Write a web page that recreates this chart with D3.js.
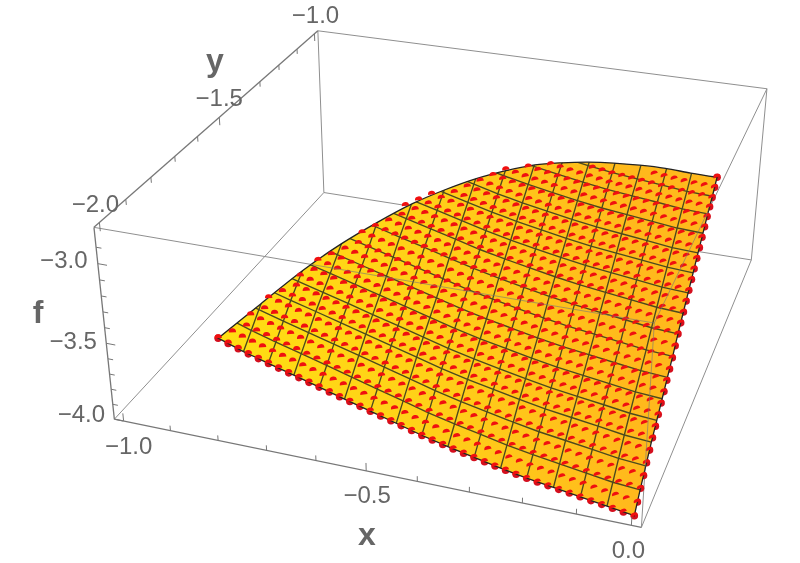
<!DOCTYPE html><html><head><meta charset="utf-8"><style>html,body{margin:0;background:#fff}svg{display:block;filter:blur(.35px)}text{font-family:"Liberation Sans",Arial,sans-serif;fill:#666;text-anchor:middle;dominant-baseline:central}</style></head><body><svg id="s" width="800" height="563"></svg>
<script src="https://cdnjs.cloudflare.com/ajax/libs/d3/7.8.5/d3.min.js"></script>
<script>
// ---- data ----
const xMesh=[-0.795,-0.745,-0.696,-0.646,-0.596,-0.547,-0.497,-0.447,-0.398,-0.348,-0.298,-0.248,-0.199,-0.149,-0.099,-0.05,0];
const yMesh=[-2,-1.9634,-1.9269,-1.8903,-1.8538,-1.8172,-1.7806,-1.7441,-1.7075,-1.6709,-1.6344,-1.5978,-1.5613,-1.5247,-1.4881,-1.4516,-1.415];
const yEdge=[-2,-1.919,-1.828,-1.762,-1.698,-1.636,-1.592,-1.547,-1.511,-1.481,-1.465,-1.452,-1.443,-1.436,-1.43,-1.424,-1.415];
const fEdge=[-3.37,-3.26,-3.16,-3.07,-3.0,-2.945,-2.895,-2.86,-2.835,-2.815,-2.8,-2.79,-2.785,-2.785,-2.79,-2.805,-2.82];
const fTable=[
[-3.37,-3.299,-3.228,-3.157,-3.096],
[-3.425,-3.353,-3.282,-3.21,-3.149,-3.087,-3.025],
[-3.47,-3.398,-3.326,-3.254,-3.192,-3.13,-3.067,-3.005,-2.933],
[-3.515,-3.442,-3.37,-3.297,-3.234,-3.172,-3.109,-3.046,-2.973,-2.911],
[-3.56,-3.487,-3.414,-3.34,-3.277,-3.214,-3.151,-3.087,-3.014,-2.951,-2.888,-2.824],
[-3.605,-3.531,-3.457,-3.384,-3.32,-3.256,-3.192,-3.128,-3.055,-2.991,-2.927,-2.863,-2.799],
[-3.65,-3.576,-3.501,-3.427,-3.362,-3.298,-3.234,-3.169,-3.095,-3.03,-2.966,-2.902,-2.837,-2.773],
[-3.695,-3.62,-3.545,-3.47,-3.405,-3.341,-3.276,-3.211,-3.136,-3.071,-3.006,-2.941,-2.876,-2.811,-2.746],
[-3.74,-3.665,-3.589,-3.514,-3.448,-3.383,-3.317,-3.252,-3.176,-3.111,-3.045,-2.98,-2.914,-2.849,-2.783,-2.728],
[-3.78,-3.704,-3.628,-3.552,-3.486,-3.42,-3.353,-3.287,-3.211,-3.145,-3.079,-3.013,-2.947,-2.881,-2.815,-2.759,-2.692],
[-3.815,-3.738,-3.662,-3.585,-3.519,-3.452,-3.385,-3.319,-3.242,-3.176,-3.109,-3.042,-2.976,-2.909,-2.843,-2.786,-2.719],
[-3.85,-3.773,-3.696,-3.618,-3.551,-3.484,-3.417,-3.35,-3.272,-3.205,-3.138,-3.071,-3.004,-2.936,-2.869,-2.812,-2.745],
[-3.88,-3.802,-3.725,-3.647,-3.579,-3.511,-3.444,-3.376,-3.298,-3.23,-3.163,-3.095,-3.027,-2.959,-2.892,-2.834,-2.766],
[-3.905,-3.827,-3.748,-3.67,-3.602,-3.534,-3.465,-3.397,-3.319,-3.25,-3.182,-3.114,-3.045,-2.977,-2.909,-2.851,-2.782],
[-3.93,-3.851,-3.772,-3.693,-3.624,-3.556,-3.487,-3.418,-3.339,-3.27,-3.201,-3.132,-3.063,-2.994,-2.925,-2.867,-2.798],
[-3.955,-3.876,-3.796,-3.717,-3.647,-3.578,-3.508,-3.439,-3.36,-3.29,-3.221,-3.151,-3.082,-3.012,-2.943,-2.883,-2.814],
[-3.98,-3.89,-3.81,-3.73,-3.66,-3.59,-3.52,-3.45,-3.37,-3.3,-3.23,-3.16,-3.09,-3.02,-2.95,-2.89,-2.82]];
const xTicks=[-1,-0.9,-0.8,-0.7,-0.6,-0.5,-0.4,-0.3,-0.2,-0.1,0];
const yTicks=[-2,-1.9,-1.8,-1.7,-1.6,-1.5,-1.4,-1.3,-1.2,-1.1,-1];
const fTicks=[-4,-3.9,-3.8,-3.7,-3.6,-3.5,-3.4,-3.3,-3.2,-3.1,-3,-2.9];
const xLabels=[-1,-0.5,0], yLabels=[-2,-1.5,-1], fLabels=[-4,-3.5,-3];
const xDots=d3.range(0,41).map(k=>-0.795+k*0.019875), yDots=d3.range(0,31).map(k=>-2+k*0.0195);
// ---- scales and camera ----
const xS=d3.scaleLinear([-1.02,0.018],[0,1]),yS=d3.scaleLinear([-2.02,-0.98],[0,1]),fS=d3.scaleLinear([-4.0,-2.78],[0,1]);
const boxPx=[[0,0,1,94,229],[0,0,0,114,418],[0,1,1,318,30],[0,1,0,324,193],[1,1,1,767,89],[1,1,0,751,260],[1,0,0,642,528],[1,0,1,654,322]];
function solve(A,b){const n=b.length,M=A.map((r,i)=>[...r,b[i]]);for(let c=0;c<n;c++){let p=c;for(let r=c;r<n;r++)if(Math.abs(M[r][c])>Math.abs(M[p][c]))p=r;[M[c],M[p]]=[M[p],M[c]];for(let r=0;r<n;r++)if(r!=c){const k=M[r][c]/M[c][c];for(let q=c;q<=n;q++)M[r][q]-=k*M[c][q];}}return M.map((r,i)=>r[n]/r[i]);}
const rows=[],rhs=[];for(const [u,v,w,x,y] of boxPx){rows.push([u,v,w,1,0,0,0,0,-x*u,-x*v,-x*w]);rhs.push(x);rows.push([0,0,0,0,u,v,w,1,-y*u,-y*v,-y*w]);rhs.push(y);}
const cam=solve(d3.range(11).map(i=>d3.range(11).map(j=>d3.sum(rows,r=>r[i]*r[j]))),d3.range(11).map(i=>d3.sum(rows,(r,k)=>r[i]*rhs[k])));cam.push(1);
const P3=(x,y,f)=>{const u=xS(x),v=yS(y),w=fS(f),d=cam[8]*u+cam[9]*v+cam[10]*w+cam[11];return [(cam[0]*u+cam[1]*v+cam[2]*w+cam[3])/d,(cam[4]*u+cam[5]*v+cam[6]*w+cam[7])/d];};
const iS=d3.scaleLinear(xMesh,d3.range(xMesh.length)),jS=d3.scaleLinear(yMesh,d3.range(yMesh.length));
function fAt(x,y){const a=iS(x),b=jS(y),i=Math.min(Math.floor(a),15),j=Math.min(Math.floor(b),15),s=a-i,t=b-j;
 const c=(ii,jj)=>fTable[ii][jj]; const g=(ii)=>t<1e-9?c(ii,j):c(ii,j)*(1-t)+c(ii,j+1)*t; return s<1e-9?g(i):g(i)*(1-s)+g(i+1)*s;}
const edgeAt=d3.scaleLinear(xMesh,yEdge);
const X0=-1.02,X1=0.018,Y0=-2.02,Y1=-0.98,F0=-4,F1=-2.78;
const svg=d3.select('#s');const line=d3.line();
const seg=(g,a,b,col,w,op)=>g.append('path').attr('d',line([P3(...a),P3(...b)])).attr('fill','none').attr('stroke',col).attr('stroke-width',w).attr('opacity',op===undefined?1:op);
// ---- gradient + clip ----
const defs=svg.append('defs');
const grad=defs.append('linearGradient').attr('id','sg').attr('gradientUnits','userSpaceOnUse');
{const a=P3(xMesh[0],-2,fTable[0][0]),b=P3(0,-2,fTable[16][0]);grad.attr('x1',a[0]).attr('y1',a[1]).attr('x2',b[0]).attr('y2',a[1]);}
grad.selectAll('stop').data([[0,'#ffdf12'],[0.5,'#ffd018'],[1,'#ffb91c']]).join('stop').attr('offset',d=>d[0]).attr('stop-color',d=>d[1]);
const bottomPts=xMesh.map((x,i)=>P3(x,-2,fTable[i][0]));
const rightPts=yMesh.map((y,j)=>P3(0,y,fTable[16][j]));
const topPts=xMesh.map((x,i)=>P3(x,yEdge[i],fEdge[i])).reverse();
const topPath=d3.line().curve(d3.curveCatmullRom)(topPts);
const outline=line(bottomPts)+rightPts.slice(1).map(p=>'L'+p).join('')+topPath.replace(/^M[^CL]*/,'')+'Z';
defs.append('clipPath').attr('id','sc').append('path').attr('d',outline);
// ---- back of box ----
const back=svg.append('g');
[[[X0,Y1,F1],[X1,Y1,F1]],[[X0,Y1,F1],[X0,Y1,F0]],[[X0,Y1,F0],[X0,Y0,F0]],[[X0,Y1,F0],[X1,Y1,F0]],[[X1,Y1,F0],[X1,Y1,F1]],[[X1,Y1,F0],[X1,Y0,F0]],[[X0,Y0,F1],[X1,Y0,F1]],[[X1,Y1,F1],[X1,Y0,F1]],[[X1,Y0,F1],[X1,Y0,F0]]].forEach(e=>seg(back,e[0],e[1],'#8f8f8f',1));
[[[X0,Y0,F0],[X0,Y0,F1]],[[X0,Y0,F1],[X0,Y1,F1]],[[X0,Y0,F0],[X1,Y0,F0]]].forEach(e=>seg(back,e[0],e[1],'#777',1.3));
// ---- dots ----
const inside=[];xDots.forEach(x=>yDots.forEach(y=>{if(y<=edgeAt(x)+1e-6){inside.push({x,y,f:fAt(x,y)});}}));
const isEdge=d=>Math.abs(d.y+2)<1e-6||Math.abs(d.x)<1e-6;
svg.append('g').selectAll('circle').data(inside.filter(isEdge)).join('circle').attr('cx',d=>P3(d.x,d.y,d.f)[0]).attr('cy',d=>P3(d.x,d.y,d.f)[1]).attr('r',3.8).attr('fill','#d40f1e');
// ---- surface ----
svg.append('path').attr('d',outline).attr('fill','url(#sg)');
const mesh=svg.append('g').attr('clip-path','url(#sc)').attr('fill','none').attr('stroke','#4c4a1e').attr('stroke-width',1.35);
d3.range(1,16).forEach(i=>mesh.append('path').attr('d',line(fTable[i].map((f,j)=>P3(xMesh[i],yMesh[j],f)))));
d3.range(1,16).forEach(j=>{const pts=[];xMesh.forEach((x,i)=>{if(fTable[i][j]!==undefined)pts.push(P3(x,yMesh[j],fTable[i][j]));});mesh.append('path').attr('d',line(pts));});
svg.append('path').attr('d',outline).attr('fill','none').attr('stroke','#222').attr('stroke-width',1.3);
// ---- domes ----
const tilt=d3.scaleLinear([-0.8,0],[-1,-20]),flat=d3.scaleLinear([-0.8,0],[4,3.2]);
svg.append('g').selectAll('path').data(inside).join('path').attr('d',d=>{const h=flat(d.x);return `M-3.7,0A3.7,${h} 0 0 1 3.7,0Z`;}).attr('transform',d=>{const p=P3(d.x,d.y,d.f);return `translate(${p[0]},${p[1]}) rotate(${tilt(d.x)})`;}).attr('fill','#f01010');
// ---- faint box edges in front of surface ----
const front=svg.append('g').attr('clip-path','url(#sc)');
[[[X0,Y0,F1],[X1,Y0,F1]],[[X1,Y1,F1],[X1,Y0,F1]],[[X1,Y0,F1],[X1,Y0,F0]]].forEach(e=>seg(front,e[0],e[1],'#777',1,0.6));
// ---- ticks ----
const tk=svg.append('g');
const major=v=>Math.abs(v*2-Math.round(v*2))<1e-6;
xTicks.forEach(x=>seg(tk,[x,Y0,F0],[x,Y0,F0+(major(x)?0.052:0.034)],'#777',1));
yTicks.forEach(y=>seg(tk,[X0,y,F1],[X0,y,F1-(major(y)?0.052:0.034)],'#777',1));
fTicks.forEach(f=>seg(tk,[X0,Y0,f],[X0+(major(f)?0.019:0.011),Y0,f],'#777',1));
// ---- labels ----
const lab=svg.append('g').attr('font-size',24);
const txt=(p,s,dx,dy)=>lab.append('text').attr('x',p[0]+dx).attr('y',p[1]+dy).text(s);
const fmt=v=>(v<0?'\u2212':'')+Math.abs(v).toFixed(1);
const xOff=[[5,24],[1,24],[-3,24]],yOff=[[-4,-19],[0,-20],[1,-19]],fOff=[[-33,-6],[-33,-3],[-34,-4]];
xLabels.forEach((v,k)=>txt(P3(v,Y0,F0),fmt(v),...xOff[k]));
yLabels.forEach((v,k)=>txt(P3(X0,v,F1),fmt(v),...yOff[k]));
fLabels.forEach((v,k)=>txt(P3(X0,Y0,v),fmt(v),...fOff[k]));
const ax=svg.append('g').attr('font-size',32).attr('font-weight','bold');
[['x',367,534],['y',215,60],['f',38,312]].forEach(d=>ax.append('text').attr('x',d[1]).attr('y',d[2]).text(d[0]));
</script></body></html>
